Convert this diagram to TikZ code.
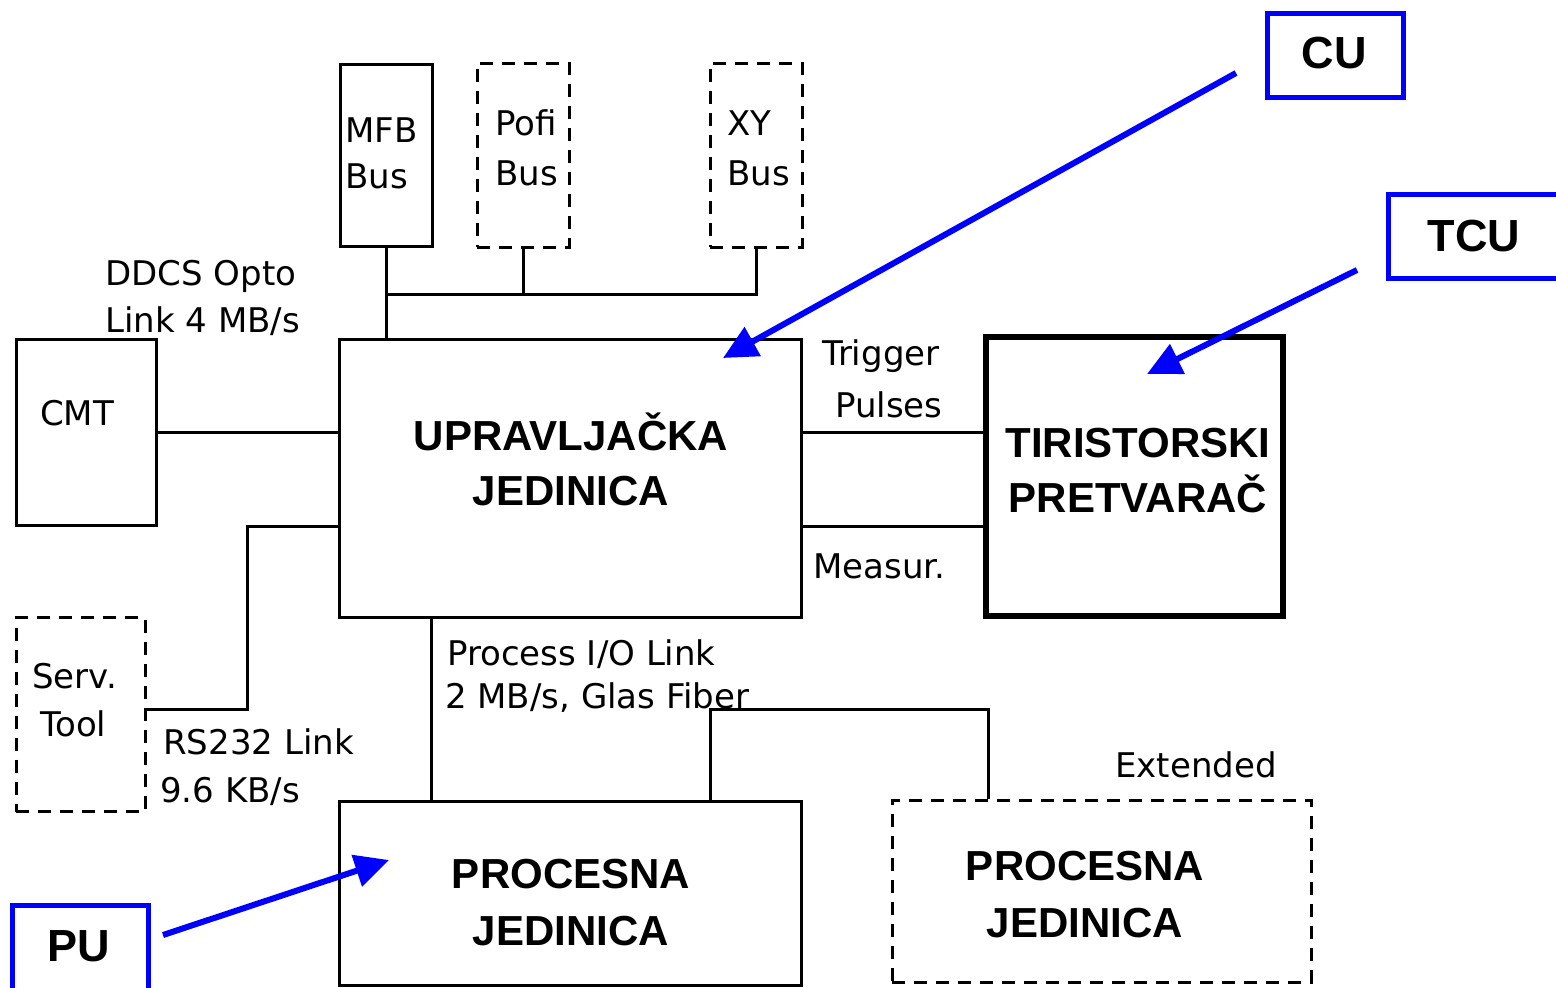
\documentclass[tikz,border=0pt]{standalone}
\usepackage{fontspec}
\setmainfont{Liberation Sans}
\newfontfamily\pixfont{DejaVu Sans}
\usetikzlibrary{arrows.meta}
\definecolor{ptrblue}{RGB}{0,0,255}
\tikzset{
  box/.style={draw=black, line width=3pt, inner sep=0pt},
  dbox/.style={box, dash pattern=on 13pt off 9pt},
  thickbox/.style={draw=black, line width=6pt, inner sep=0pt},
  tagbox/.style={draw=ptrblue, line width=5pt, inner sep=0pt},
  wire/.style={draw=black, line width=3pt},
  pointer/.style={draw=ptrblue, line width=6pt, -{Triangle[length=34pt,width=32pt]}},
  small/.style={inner sep=0pt, anchor=base west, font=\pixfont\fontsize{34}{40}\selectfont},
  big/.style={inner sep=0pt, anchor=base, font=\bfseries\fontsize{42}{50}\selectfont},
  tag/.style={inner sep=0pt, anchor=base, font=\bfseries\fontsize{45}{52}\selectfont},
}
\begin{document}
\begin{tikzpicture}[x=1pt, y=-1pt]
\useasboundingbox (0,0) rectangle (1556,988);
\clip (0,0) rectangle (1556,988);
\fill[white] (0,0) rectangle (1556,988);

% bus boxes
\node[box,  minimum width=92pt, minimum height=182pt] (mfb)  at (386,155) {};
\node[dbox, minimum width=92pt, minimum height=184pt] (pofi) at (523,155) {};
\node[dbox, minimum width=92pt, minimum height=184pt] (xy)   at (756,155) {};

% main blocks
\node[box,  minimum width=140pt, minimum height=186pt] (cmt)  at (86,432) {};
\node[box,  minimum width=462pt, minimum height=278pt] (uj)   at (570,478) {};
\node[thickbox, minimum width=297pt, minimum height=279pt] (tp) at (1134.5,476.5) {};
\node[dbox, minimum width=129pt, minimum height=194pt] (serv) at (80.5,714.5) {};
\node[box,  minimum width=462pt, minimum height=184pt] (pj)   at (570,893) {};
\node[dbox, minimum width=419pt, minimum height=182pt] (ext)  at (1101.5,891) {};

% labels on the blue tags
\node[tagbox, minimum width=136pt, minimum height=84pt] (cu)  at (1335,55) {};
\node[tagbox, minimum width=182pt, minimum height=84pt] (tcu) at (1479,236) {};
\node[tagbox, minimum width=136pt, minimum height=100pt] (pu) at (80,955) {};

% bus wiring
\coordinate (busL) at (386,294);
\draw[wire] (mfb.south) -- (mfb.south |- uj.north);
\draw[wire] (busL) -| (xy.south);
\draw[wire] (pofi.south) -- (pofi.south |- busL);

% links to the control unit
\draw[wire] (cmt.east) -- (cmt.east -| uj.west);
\coordinate (rsbend) at (247,709);
\draw[wire] (cmt.south -| uj.west) -| (rsbend) -- (rsbend -| serv.east);
\draw[wire] (uj.east |- cmt.east) -- (tp.west |- cmt.east);
\draw[wire] (uj.east |- cmt.south) -- (tp.west |- cmt.south);

% process I/O link
\coordinate (iol) at (431,617);
\draw[wire] (iol |- uj.south) -- (iol |- pj.north);
\coordinate (fib) at (710,709);
\coordinate (extin) at (988,709);
\draw[wire] (fib |- pj.north) -- (fib) -- (extin) -- (extin |- ext.north);

% small labels
\node[small] (t1)  at (105,285) {DDCS Opto};
\node[small] (t2)  at (105,332) {Link 4 MB/s};
\node[small] (t3)  at (345,142) {MFB};
\node[small] (t4)  at (345,188) {Bus};
\node[small] (t5)  at (495,135) {Pofi};
\node[small] (t6)  at (495,185) {Bus};
\node[small] (t7)  at (727,135) {XY};
\node[small] (t8)  at (727,185) {Bus};
\node[small] (t9)  at (40,425)  {CMT};
\node[small] (t10) at (822,365) {Trigger};
\node[small] (t11) at (835,417) {Pulses};
\node[small] (t12) at (813,578) {Measur.};
\node[small] (t13) at (447,665) {Process I/O Link};
\node[small] (t14) at (445,708) {2 MB/s, Glas Fiber};
\node[small] (t15) at (32,688)  {Serv.};
\node[small] (t16) at (40,736)  {Tool};
\node[small] (t17) at (163,754) {RS232 Link};
\node[small] (t18) at (160,802) {9.6 KB/s};
\node[small] (t19) at (1115,777) {Extended};

% block titles
\node[big] (b1) at (571,450)  {UPRAVLJAČKA};
\node[big] (b2) at (571,505)  {JEDINICA};
\node[big] (b3) at (1138,457) {TIRISTORSKI};
\node[big] (b4) at (1138,512) {PRETVARAČ};
\node[big] (b5) at (571,888)  {PROCESNA};
\node[big] (b6) at (571,945)  {JEDINICA};
\node[big] (b7) at (1085,880) {PROCESNA};
\node[big] (b8) at (1085,937) {JEDINICA};

\node[tag] (c1) at (1334,68)  {CU};
\node[tag] (c2) at (1474,251) {TCU};
\node[tag] (c3) at (79,961)   {PU};

% pointers
\coordinate (cuS)  at (1236,73);
\coordinate (cuT)  at (723,358);
\coordinate (tcuS) at (1357,270);
\coordinate (tcuT) at (1147,374);
\coordinate (puS)  at (163,935);
\coordinate (puT)  at (389,860);
\draw[pointer] (cuS) -- (cuT);
\draw[pointer] (tcuS) -- (tcuT);
\draw[pointer] (puS) -- (puT);
\end{tikzpicture}
\end{document}
